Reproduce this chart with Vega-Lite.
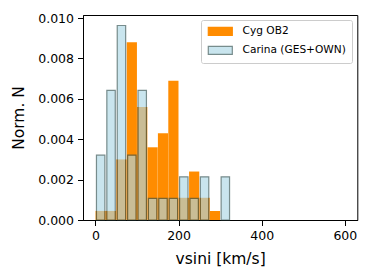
{
  "$schema": "https://vega.github.io/schema/vega-lite/v6.json",
  "autosize": "none",
  "width": 274.3,
  "height": 205,
  "padding": {"left": 83, "top": 15, "right": 30.7, "bottom": 58},
  "background": "white",
  "config": {
    "font": "DejaVu Sans",
    "view": {"stroke": "black", "strokeWidth": 1},
    "axis": {
      "grid": false,
      "domainColor": "black",
      "tickColor": "black",
      "tickSize": 5.5,
      "labelColor": "black",
      "labelFont": "DejaVu Sans",
      "labelFontSize": 12.5,
      "labelPadding": 4,
      "titleFont": "DejaVu Sans",
      "titleFontSize": 15.5,
      "titleFontWeight": "normal",
      "titleColor": "black"
    },
    "legend": {
      "labelFont": "DejaVu Sans",
      "labelFontSize": 10.6,
      "labelColor": "black"
    }
  },
  "data": {
    "values": [
      {"series": "Cyg OB2", "vsini": 12.5, "density": 0.00045},
      {"series": "Cyg OB2", "vsini": 37.5, "density": 0.00045},
      {"series": "Cyg OB2", "vsini": 62.5, "density": 0.0030},
      {"series": "Cyg OB2", "vsini": 87.5, "density": 0.0088},
      {"series": "Cyg OB2", "vsini": 112.5, "density": 0.0056},
      {"series": "Cyg OB2", "vsini": 137.5, "density": 0.0036},
      {"series": "Cyg OB2", "vsini": 162.5, "density": 0.0043},
      {"series": "Cyg OB2", "vsini": 187.5, "density": 0.0069},
      {"series": "Cyg OB2", "vsini": 212.5, "density": 0.0011},
      {"series": "Cyg OB2", "vsini": 237.5, "density": 0.0024},
      {"series": "Cyg OB2", "vsini": 262.5, "density": 0.0011},
      {"series": "Cyg OB2", "vsini": 287.5, "density": 0.00045},
      {"series": "Carina (GES+OWN)", "vsini": 12.5, "density": 0.00321},
      {"series": "Carina (GES+OWN)", "vsini": 37.5, "density": 0.00642},
      {"series": "Carina (GES+OWN)", "vsini": 62.5, "density": 0.00963},
      {"series": "Carina (GES+OWN)", "vsini": 87.5, "density": 0.00321},
      {"series": "Carina (GES+OWN)", "vsini": 112.5, "density": 0.00642},
      {"series": "Carina (GES+OWN)", "vsini": 137.5, "density": 0.00107},
      {"series": "Carina (GES+OWN)", "vsini": 162.5, "density": 0.00107},
      {"series": "Carina (GES+OWN)", "vsini": 187.5, "density": 0.00107},
      {"series": "Carina (GES+OWN)", "vsini": 212.5, "density": 0.00214},
      {"series": "Carina (GES+OWN)", "vsini": 237.5, "density": 0.00107},
      {"series": "Carina (GES+OWN)", "vsini": 262.5, "density": 0.00214},
      {"series": "Carina (GES+OWN)", "vsini": 312.5, "density": 0.00214}
    ]
  },
  "encoding": {
    "x": {
      "field": "vsini",
      "type": "quantitative",
      "title": "vsini [km/s]",
      "scale": {"domain": [-30, 630], "nice": false, "zero": false, "padding": 0},
      "axis": {"values": [0, 200, 400, 600], "titlePadding": 9}
    },
    "y": {
      "field": "density",
      "type": "quantitative",
      "title": "Norm. N",
      "scale": {"domain": [0, 0.01015], "nice": false},
      "axis": {"values": [0, 0.002, 0.004, 0.006, 0.008, 0.010], "format": ".3f", "titlePadding": 11}
    },
    "color": {
      "field": "series",
      "type": "nominal",
      "scale": {"domain": ["Cyg OB2", "Carina (GES+OWN)"], "range": ["#ff8c00", "#add8e6"]},
      "legend": {
        "title": null,
        "orient": "top-right",
        "offset": 5,
        "padding": 6,
        "rowPadding": 5,
        "strokeColor": "#cccccc",
        "fillColor": "rgba(255,255,255,0.8)",
        "cornerRadius": 2,
        "symbolType": "M-3,-1H3V1H-3Z",
        "symbolSize": 64,
        "symbolOffset": 8,
        "symbolStrokeWidth": 1.2,
        "labelOffset": 17
      }
    },
    "stroke": {
      "field": "series",
      "type": "nominal",
      "scale": {"domain": ["Cyg OB2", "Carina (GES+OWN)"], "range": ["#ff8c00", "#2f4f4f"]},
      "legend": null
    },
    "opacity": {
      "field": "series",
      "type": "nominal",
      "scale": {"domain": ["Cyg OB2", "Carina (GES+OWN)"], "range": [1, 0.65]},
      "legend": null
    }
  },
  "layer": [
    {
      "transform": [{"filter": "datum.series === 'Cyg OB2'"}],
      "mark": {"type": "bar", "width": 10.2, "strokeWidth": 0}
    },
    {
      "transform": [{"filter": "datum.series === 'Carina (GES+OWN)'"}],
      "mark": {"type": "bar", "width": 8.4, "strokeWidth": 1.2}
    }
  ]
}
